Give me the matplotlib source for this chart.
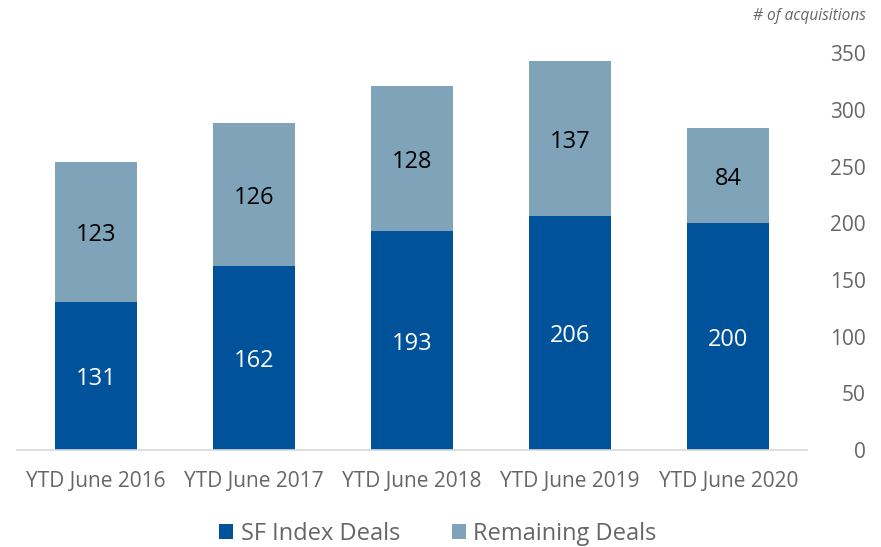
import matplotlib.pyplot as plt
import numpy as np

plt.rcParams['font.family'] = ['Open Sans', 'DejaVu Sans']

# -- data
categories = ['YTD June 2016', 'YTD June 2017', 'YTD June 2018',
              'YTD June 2019', 'YTD June 2020']
sf_index = [131, 162, 193, 206, 200]
remaining = [123, 126, 128, 137, 84]
y_ticks = [0, 50, 100, 150, 200, 250, 300, 350]

c_dark = '#00529B'
c_light = '#7FA3B8'
c_text = '#666666'

fig = plt.figure(figsize=(8.81, 5.47), dpi=100)
ax = fig.add_axes([0.0193, 0.177, 0.897, 0.726])

x = np.arange(len(categories))
wd = 0.52
b1 = ax.bar(x, sf_index, width=wd, color=c_dark, label='SF Index Deals')
b2 = ax.bar(x, remaining, width=wd, bottom=sf_index, color=c_light,
            label='Remaining Deals')

# -- value labels
for xi, a, b in zip(x, sf_index, remaining):
    ax.text(xi, a / 2.0, str(a), ha='center', va='center_baseline',
            color='white', fontsize=17)
    ax.text(xi, a + b / 2.0, str(b), ha='center', va='center_baseline',
            color='black', fontsize=17)

ax.set_xlim(-0.5, len(categories) - 0.5)
ax.set_ylim(0, 350)
ax.set_xticks(x)
ax.set_xticklabels(categories, fontsize=15, color=c_text)
ax.yaxis.tick_right()
ax.set_yticks(y_ticks)
ax.set_yticklabels([str(t) for t in y_ticks], fontsize=15, color=c_text,
                   ha='right')
ax.tick_params(axis='y', length=0, pad=42)
ax.tick_params(axis='x', length=0, pad=15)

for side in ['top', 'right', 'left']:
    ax.spines[side].set_visible(False)
ax.spines['bottom'].set_color('#D9D9D9')
ax.spines['bottom'].set_linewidth(1.2)

fig.text(0.983, 0.97, '# of acquisitions', ha='right', va='center',
         fontsize=11.2, style='italic', color=c_text)

leg = fig.legend(handles=[b1, b2], loc='center', bbox_to_anchor=(0.497, 0.024),
                 ncol=2, frameon=False, fontsize=17, handlelength=0.6,
                 handleheight=0.6, handletextpad=0.3, columnspacing=2.2)
for t in leg.get_texts():
    t.set_color(c_text)

plt.savefig('out.png', dpi=100)
plt.close()
